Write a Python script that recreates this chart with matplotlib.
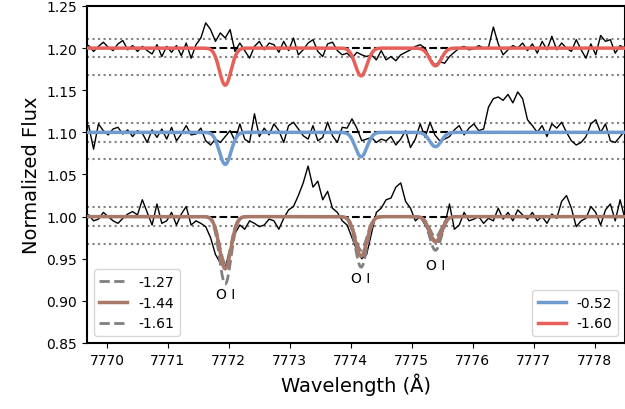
import numpy as np
import matplotlib.pyplot as plt

# wavelength grid of the observed spectrum
wave = np.arange(111) * 0.08 + 7769.70

# observed flux, deviations from continuum (x 1e-3)
top_dev = [3, -4, 2, 7, 1, -3, 5, 9, -2, 3, -4, 2, -3, -7, 4, -10, 2, -5, 3, -9, 6, -12, 4,
           12, 30, 22, 8, 18, 12, 22, -4,
           6, -3, -12, 2, 8, -2, 6, 4, -5, 8, -3, 12, -8, -2, 6,
           10, -4, -10, 5, 7, -3, -8, -6, -12, -5, -8, -10, -8, -14, -3,
           -14, -10, -15, -8, -5, -2, 2, 4, 0, -12, -20, -16, -18, -10, -5,
           0, 2, -2, -1, 3, 0, 1, 25, 5, -8,
           -2, 3, 0, 6, -3, 5, -6, 8, -2, 14, -2, 6, 0, -4, 10, -2, -12, 5, -8, 15, 8, 10, -6, 3, 0]
mid_dev = [8, -20, 10, 2, -3, 4, 6, -2, 3, -5, 2, -1, -12, 3, -6, 4, -8, 6, -10, -2, 8, -3, -2,
           5, -10, -15, -8, -12, -5, 2, -10,
           10, -8, -12, 22, -5, 5, -3, 10, 2, -12, 8, 12, 4, -4, -8,
           8, -10, -6, 12, -4, -12, 6, 5, 16, 5, -10, -8, -6, -12, -8,
           -10, -5, -15, -8, 2, -18, -8, 10, -6, 12, -3, -10, -8, -5, 3,
           8, -3, 5, 10, 2, 4, 30, 40, 42, 38,
           45, 35, 48, 40, 15, 8, 0, 8, -5, 10, 5, 12, 0, -10, -15, -12, -5, 10, 15, 0, 10, -10, -12, -5, 2]
bot_dev = [2, -5, -3, 5, 0, -5, -8, -2, 3, 6, 2, 20, 5, -10, 15, -8, -5, 5, -10, 3, 12, -10, -5,
           -8, -12, -25, -45, -55, -60, -40, -20,
           -10, -15, -5, -8, -12, -10, -3, -5, -15, -2, 8, 12, 25, 40, 60,
           35, 42, 20, 30, 10, 5, -5, -10, -25, -40, -50, -45, -20, 5, 10,
           20, 22, 35, 40, 18, 10, -5, 0, -10, -20, -28, -30, -10, 15, -15,
           -10, 5, -5, -3, 0, -8, -2, -5, 10, -3,
           5, -5, 8, 2, -3, 5, -5, 0, -8, 3, -2, 18, 25, 10, -12, -5, -2, 12, 5, -10, 8, 15, -5, 20, -3]

offsets = [1.2, 1.1, 1.0]

# O I triplet
line_centers = [7771.94, 7774.17, 7775.39]
line_sigma = 0.095
# line depths for each model
depth_red = [0.044, 0.033, 0.021]
depth_blue = [0.038, 0.029, 0.017]
depth_mid = [0.062, 0.047, 0.030]     # -1.44
depth_lo = [0.055, 0.040, 0.024]      # -1.27
depth_hi = [0.080, 0.060, 0.040]      # -1.61
label_y = [0.908, 0.927, 0.943]

grid = np.linspace(7769.6, 7778.6, 2000)


def model(depths, cont):
    f = np.ones_like(grid) * cont
    for c, d in zip(line_centers, depths):
        f -= d * np.exp(-0.5 * ((grid - c) / line_sigma) ** 2)
    return f


fig = plt.figure(figsize=(6.25, 4.1), dpi=100)
ax = fig.add_axes([0.139, 0.161, 0.861, 0.822])

for off in offsets:
    for d in [0.011, -0.011, -0.032]:
        ax.axhline(off + d, color='gray', ls=':', lw=1.5, zorder=1)
    ax.axhline(off, color='k', ls='--', lw=1.5, zorder=1)

for off, dev in zip(offsets, [top_dev, mid_dev, bot_dev]):
    ax.plot(wave, off + np.array(dev) / 1000., color='k', lw=1, zorder=2)

ax.plot(grid, model(depth_red, 1.2), color='#e8605a', lw=2.5, zorder=3)
ax.plot(grid, model(depth_blue, 1.1), color='#6f9bd1', lw=2.5, zorder=3)
l1, = ax.plot(grid, model(depth_lo, 1.0), color='gray', ls='--', lw=2, zorder=3, label='-1.27')
l2, = ax.plot(grid, model(depth_mid, 1.0), color='#a97868', lw=2.5, zorder=4, label='-1.44')
l3, = ax.plot(grid, model(depth_hi, 1.0), color='gray', ls='--', lw=2, zorder=3, label='-1.61')

for c, y in zip(line_centers, label_y):
    ax.text(c, y, 'O I', ha='center', va='center', fontsize=10)

leg1 = ax.legend(handles=[l1, l2, l3], loc='lower left', fontsize=10)
ax.add_artist(leg1)
b, = ax.plot([], [], color='#6f9bd1', lw=2.5, label='-0.52')
r, = ax.plot([], [], color='#e8605a', lw=2.5, label='-1.60')
ax.legend(handles=[b, r], loc='lower right', fontsize=10)

ax.set_xlim(7769.67, 7778.5)
ax.set_ylim(0.85, 1.25)
ax.set_xticks(range(7770, 7779))
ax.set_xlabel('Wavelength (Å)', fontsize=14)
ax.set_ylabel('Normalized Flux', fontsize=14)
for s in ax.spines.values():
    s.set_linewidth(1.5)

plt.savefig('out.png')
